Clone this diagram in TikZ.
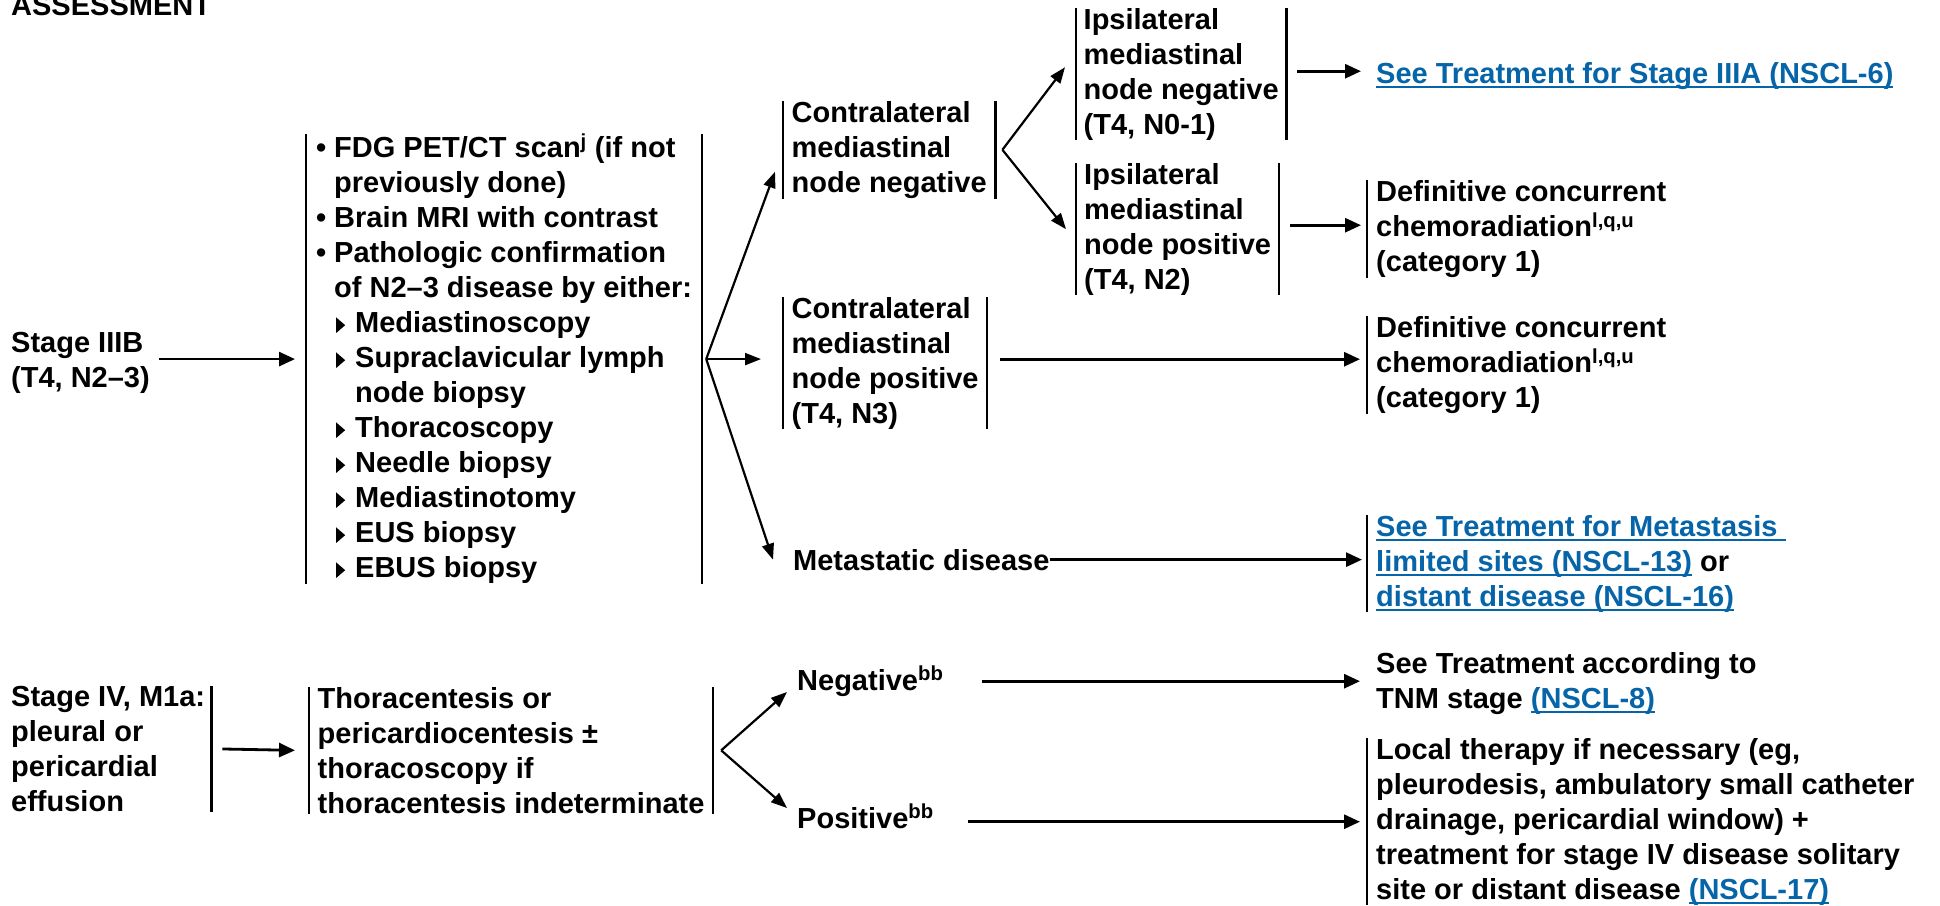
\documentclass[tikz,border=0pt]{standalone}
\usepackage{fontspec}
\setmainfont{Liberation Sans}
\usetikzlibrary{arrows.meta,calc}
\definecolor{nccn}{RGB}{6,100,168}
\newcommand\lnk[1]{{\color{nccn}\setbox0\hbox{#1}\rlap{\rule[-5pt]{\wd0}{2pt}}\box0}}
\newcommand\tri{\tikz[baseline=0pt,x=1pt,y=1pt]\fill (0,0)--(0,15.5)--(9,7.75)--cycle;}
\newcommand\bulitm{\makebox[18pt][l]{•}}
\newcommand\subitm{\hspace*{18pt}\makebox[21pt][l]{\hspace*{2pt}\tri}}
\begin{document}
\begin{tikzpicture}[x=1pt,y=-1pt,
  txt/.style={font=\fontsize{29}{35}\selectfont\bfseries, inner sep=0pt, align=left},
  bx/.style={txt, anchor=north west, inner ysep=0pt},
  brk/.style={draw=black, line width=2.3pt},
  lb/.style={append after command={(\tikzlastnode.north west) edge[brk] (\tikzlastnode.south west)}},
  rb/.style={append after command={(\tikzlastnode.north east) edge[brk] (\tikzlastnode.south east)}},
  arr/.style={draw, line width=2.8pt, -{Triangle[length=16pt,width=14pt]}},
  darr/.style={draw, line width=2.2pt, -{Triangle[length=16pt,width=12pt]}}]
\useasboundingbox (0,0) rectangle (1940,905);

\node[txt, anchor=base west] (title) at (11,15) {ASSESSMENT};

% Stage IIIB branch
\node[txt, anchor=north west] (s3b) at (11,332) {Stage IIIB\\(T4, N2–3)};
\node[bx, lb, rb, inner xsep=10pt] (fdg) at (306,134) {\bulitm FDG PET/CT scan\textsuperscript{j} (if not\\
\hspace*{18pt}previously done)\\
\bulitm Brain MRI with contrast\\
\bulitm Pathologic confirmation\\
\hspace*{18pt}of N2–3 disease by either:\\
\subitm Mediastinoscopy\\
\subitm Supraclavicular lymph\\
\hspace*{39pt}node biopsy\\
\subitm Thoracoscopy\\
\subitm Needle biopsy\\
\subitm Mediastinotomy\\
\subitm EUS biopsy\\
\subitm EBUS biopsy};

\node[bx, lb, rb, inner xsep=8.5pt] (cneg) at (783,101) {Contralateral\\mediastinal\\node negative};
\node[bx, lb, rb, inner xsep=8.5pt] (cpos) at (783,297) {Contralateral\\mediastinal\\node positive\\(T4, N3)};
\node[bx, lb, rb, inner xsep=7.5pt] (ineg) at (1076,8) {Ipsilateral\\mediastinal\\node negative\\(T4, N0-1)};
\node[bx, lb, rb, inner xsep=8pt] (ipos) at (1076,163) {Ipsilateral\\mediastinal\\node positive\hspace*{7pt}\\(T4, N2)};

\node[txt, anchor=base west] (link1) at (1376,83) {\lnk{See Treatment for Stage IIIA (NSCL-6)}};
\node[bx, lb, inner xsep=9pt] (def1) at (1367,180) {Definitive concurrent\\chemoradiation\textsuperscript{l,q,u}\\(category 1)};
\node[bx, lb, inner xsep=9pt] (def2) at (1367,316) {Definitive concurrent\\chemoradiation\textsuperscript{l,q,u}\\(category 1)};
\node[txt, anchor=base west] (meta) at (793,570) {Metastatic disease};
\node[bx, lb, inner xsep=9pt] (mlink) at (1367,515) {\lnk{See Treatment for Metastasis\ }\\\lnk{limited sites (NSCL-13)} or\\\lnk{distant disease (NSCL-16)}};

% Stage IV branch
\node[bx, rb, inner xsep=6pt] (s4) at (5,686) {Stage IV, M1a:\\pleural or\\pericardial\\effusion};
\node[bx, lb, rb, inner xsep=8.5pt] (thor) at (309,687) {Thoracentesis or\\pericardiocentesis ±\\thoracoscopy if\\thoracentesis indeterminate};
\node[txt, anchor=base west] (neg) at (797,690) {Negative\textsuperscript{bb}};
\node[txt, anchor=base west] (pos) at (797,828) {Positive\textsuperscript{bb}};
\node[txt, anchor=north west] (tnm) at (1376,652) {See Treatment according to\\TNM stage \lnk{(NSCL-8)}};
\node[bx, lb, inner xsep=9pt] (local) at (1367,738) {Local therapy if necessary (eg,\\pleurodesis, ambulatory small catheter\\drainage, pericardial window) +\\treatment for stage IV disease solitary\\site or distant disease \lnk{(NSCL-17)}};

% connectors
\draw[arr] ($(s3b.east |- fdg.west)+(9,0)$) -- ($(fdg.west)+(-11,0)$);
\coordinate (fb) at ($(fdg.east)+(4,0)$);
\draw[darr] (fb) -- ($(cneg.west)+(-8,22)$);
\draw[darr] (fb) -- ($(fb -| cpos.west)+(-22,0)$);
\draw[darr] (fb) -- ($(meta.west)+(-20,0)$);
\coordinate (cb) at ($(cneg.east)+(7,0)$);
\draw[darr] (cb) -- ($(ineg.west)+(-11,-7)$);
\draw[darr] (cb) -- ($(ipos.west)+(-10,0)$);
\draw[arr] ($(ineg.east)+(11,-3)$) -- ($(ineg.east -| link1.west)+(-15,-3)$);
\draw[arr] ($(ipos.east)+(11,-4)$) -- ($(ipos.east -| def1.west)+(-6,-4)$);
\draw[arr] ($(cpos.east)+(13,-4)$) -- ($(cpos.east -| def2.west)+(-7,-4)$);
\draw[arr] (meta.east) -- ($(meta.east -| mlink.west)+(-5,0)$);
\draw[arr] ($(s4.east)+(11,0)$) -- ($(thor.west)+(-14,0)$);
\coordinate (tb) at ($(thor.east)+(8,0)$);
\draw[darr] (tb) -- ($(neg.base west)+(-10,2)$);
\draw[darr] (tb) -- ($(pos.base west)+(-10,-20)$);
\draw[arr] ($(neg.east)+(38,0)$) -- ($(neg.east -| tnm.west)+(-16,0)$);
\draw[arr] ($(pos.east |- local.west)+(34,0)$) -- ($(local.west)+(-7,0)$);
\end{tikzpicture}
\end{document}
